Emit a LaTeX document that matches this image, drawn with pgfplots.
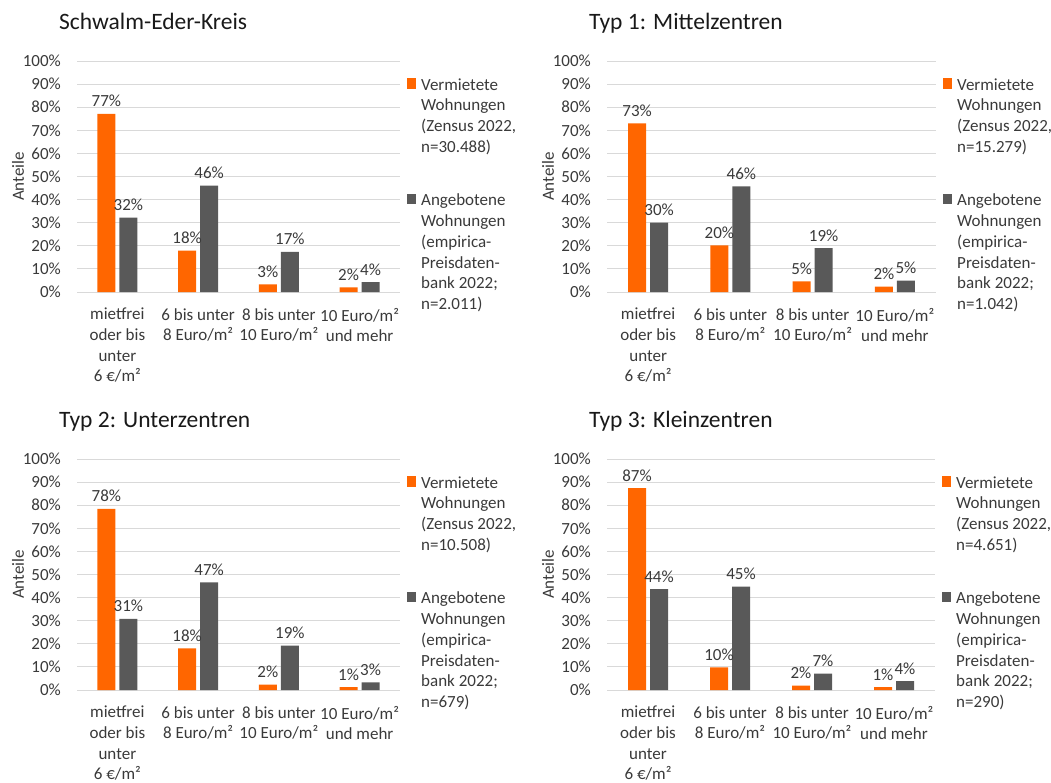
\documentclass[border=0pt]{standalone}
\usepackage{fontspec}
\setmainfont{Carlito}
\usepackage{pgfplots}
\pgfplotsset{compat=1.18}
\definecolor{corange}{HTML}{FF6600}
\definecolor{cgray}{HTML}{595959}
\definecolor{cgrid}{HTML}{D9D9D9}
\definecolor{ctext}{HTML}{3A3A3A}
\newcommand{\lf}{\fontsize{17}{20.75}\selectfont}
\newcommand{\xf}{\fontsize{17}{20.6}\selectfont}
\pgfplotsset{
  panel/.style={
    scale only axis,
    height=231pt,
    ybar=4pt, bar width=18pt,
    ymin=0, ymax=100, ytick={0,10,...,100},
    xmin=-0.5, xmax=3.5, xtick={0,1,2,3},
    xticklabels={{mietfrei\\oder bis\\unter\\6 €/m²},{6 bis unter\\8 Euro/m²},{8 bis unter\\10 Euro/m²},{10 Euro/m²\\und mehr}},
    axis line style={draw=none},
    ymajorgrids, major grid style={cgrid, line width=0.9pt},
    major tick length=0pt,
    clip=false,
    yticklabel={\pgfmathprintnumber{\tick}\%},
    /pgf/number format/assume math mode=true,
    ticklabel style={font=\lf, text=ctext},
    xticklabel style={align=center, anchor=north, inner sep=0pt, yshift=-16pt, font=\xf},
    yticklabel style={anchor=east, inner sep=0pt, xshift=-16pt},
    ylabel={Anteile},
    ylabel style={font=\fontsize{17}{20}\selectfont, text=ctext, at={([xshift=-59pt]axis description cs:0,0.5)}, anchor=center},
    title style={at={(rel axis cs:0,1)}, anchor=base west, xshift=-18pt, yshift=26pt, font=\fontsize{23.5}{28}\selectfont, text=black!90, inner sep=0pt},
    nodes near coords={\pgfmathprintnumber[fixed,precision=0]{\pgfplotspointmeta}\%},
    nodes near coords style={font=\lf, text=ctext, anchor=base, inner sep=0pt, yshift=7pt},
    legend style={draw=none, fill=none, inner sep=0pt, at={([xshift=7pt,yshift=-17pt]rel axis cs:1,1)}, anchor=north west, font=\lf, row sep=40pt, column sep=5pt, cells={anchor=north west}, nodes={align=left, inner sep=0pt, text=ctext}},
  },
  po/.style={fill=corange, draw=none, legend image code/.code={\fill[corange] (0pt,-10.5pt) rectangle (9pt,0pt);}},
  pg/.style={fill=cgray, draw=none, legend image code/.code={\fill[cgray] (0pt,-10.5pt) rectangle (9pt,0pt);}},
}
\begin{document}
\begin{tikzpicture}
\path[use as bounding box] (0,0) rectangle (1051pt,-782pt);
% Panel 1
\begin{axis}[panel, width=323pt, at={(77pt,-292pt)}, anchor=south west, title={Schwalm-Eder-Kreis}]
\addplot[po] coordinates {(0,77.1) (1,17.9) (2,3.3) (3,2.0)};
\addlegendentry{Vermietete\\Wohnungen\\(Zensus 2022,\\n=30.488)}
\addplot[pg] coordinates {(0,32.2) (1,46.0) (2,17.4) (3,4.3)};
\addlegendentry{Angebotene\\Wohnungen\\(empirica-\\Preisdaten-\\bank 2022;\\n=2.011)}
\end{axis}
% Panel 2
\begin{axis}[panel, width=329pt, at={(607pt,-292pt)}, anchor=south west, title={Typ 1: Mittelzentren}]
\addplot[po] coordinates {(0,73.0) (1,20.2) (2,4.6) (3,2.3)};
\addlegendentry{Vermietete\\Wohnungen\\(Zensus 2022,\\n=15.279)}
\addplot[pg] coordinates {(0,30.0) (1,45.7) (2,19.0) (3,4.9)};
\addlegendentry{Angebotene\\Wohnungen\\(empirica-\\Preisdaten-\\bank 2022;\\n=1.042)}
\end{axis}
% Panel 3
\begin{axis}[panel, width=323pt, at={(77pt,-690pt)}, anchor=south west, title={Typ 2: Unterzentren}]
\addplot[po] coordinates {(0,78.4) (1,18.0) (2,2.3) (3,1.2)};
\addlegendentry{Vermietete\\Wohnungen\\(Zensus 2022,\\n=10.508)}
\addplot[pg] coordinates {(0,30.8) (1,46.6) (2,19.2) (3,3.3)};
\addlegendentry{Angebotene\\Wohnungen\\(empirica-\\Preisdaten-\\bank 2022;\\n=679)}
\end{axis}
% Panel 4
\begin{axis}[panel, width=328pt, at={(607pt,-690pt)}, anchor=south west, title={Typ 3: Kleinzentren}]
\addplot[po] coordinates {(0,87.4) (1,9.8) (2,1.9) (3,1.2)};
\addlegendentry{Vermietete\\Wohnungen\\(Zensus 2022,\\n=4.651)}
\addplot[pg] coordinates {(0,43.7) (1,44.8) (2,7.1) (3,3.9)};
\addlegendentry{Angebotene\\Wohnungen\\(empirica-\\Preisdaten-\\bank 2022;\\n=290)}
\end{axis}
\end{tikzpicture}
\end{document}
